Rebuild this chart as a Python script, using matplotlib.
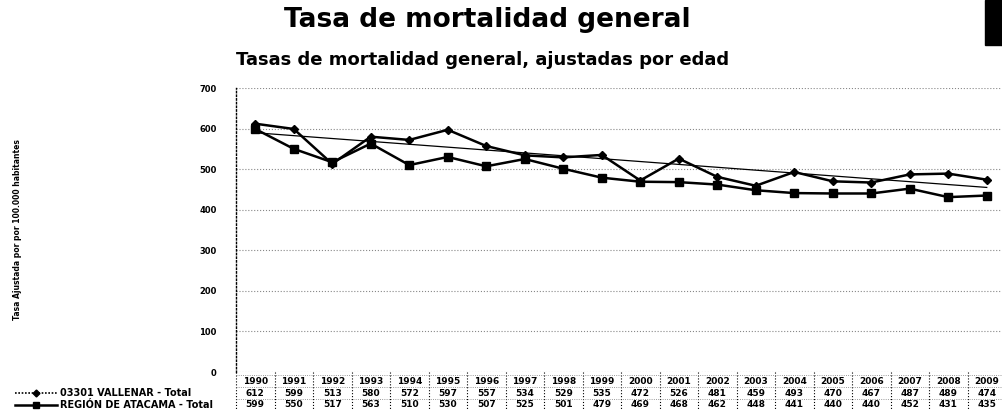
import matplotlib.pyplot as plt
import numpy as np
from matplotlib.lines import Line2D
from matplotlib.patches import Rectangle

years = [str(y) for y in range(1990, 2010)]
vallenar = [612, 599, 513, 580, 572, 597, 557, 534, 529, 535,
            472, 526, 481, 459, 493, 470, 467, 487, 489, 474]
atacama = [599, 550, 517, 563, 510, 530, 507, 525, 501, 479,
           469, 468, 462, 448, 441, 440, 440, 452, 431, 435]
yticks = [0, 100, 200, 300, 400, 500, 600, 700]

W, H = 1003, 412
fig = plt.figure(figsize=(W / 100, H / 100), dpi=100)
# axes: x 236..1006 px, y 88..372 px
ax = fig.add_axes([236 / W, (H - 372) / H, 770 / W, 284 / H])

x = np.arange(len(years))
ax.plot(x, vallenar, color='black', lw=1.8, marker='D', ms=4)
ax.plot(x, atacama, color='black', lw=1.8, marker='s', ms=5.5)
k, b = np.polyfit(x, vallenar, 1)
ax.plot(x, k * x + b, color='black', lw=0.9)

ax.set_xlim(-0.5, len(years) - 0.5)
ax.set_ylim(0, 700)
ax.set_yticks(yticks)
ax.set_yticklabels([str(v) for v in yticks], fontsize=6, fontweight='bold')
ax.tick_params(axis='y', length=0, pad=14)
ax.set_xticks([])
ax.grid(axis='y', color='#888888', ls=':', lw=0.8)
for s in ['top', 'right', 'bottom']:
    ax.spines[s].set_visible(False)
ax.spines['left'].set_linestyle(':')
ax.spines['left'].set_linewidth(1.0)

# data table under the axis
tr = ax.get_xaxis_transform()
rows_y = [-0.032, -0.074, -0.116]
for i in range(len(years)):
    ax.text(i, rows_y[0], years[i], transform=tr, ha='center', va='center',
            fontsize=6.5, fontweight='bold', clip_on=False)
    ax.text(i, rows_y[1], str(vallenar[i]), transform=tr, ha='center', va='center',
            fontsize=6.5, fontweight='bold', clip_on=False)
    ax.text(i, rows_y[2], str(atacama[i]), transform=tr, ha='center', va='center',
            fontsize=6.5, fontweight='bold', clip_on=False)
    ax.plot([i - 0.5, i - 0.5], [0, -0.135], transform=tr, color='black',
            ls=':', lw=0.8, clip_on=False)
for yy in [-0.012, -0.053, -0.095]:
    ax.plot([-0.5, len(years) - 0.5], [yy, yy], transform=tr, color='#777777',
            ls=':', lw=0.6, clip_on=False)

# row labels with legend keys
fig.add_artist(Line2D([15 / W, 57 / W], [(H - 393) / H] * 2, color='black',
                      lw=1.2, ls=(0, (1, 1))))
fig.add_artist(Line2D([36 / W], [(H - 393) / H], color='black', marker='D', ms=3.5))
fig.add_artist(Line2D([15 / W, 57 / W], [(H - 405) / H] * 2, color='black', lw=1.8))
fig.add_artist(Line2D([36 / W], [(H - 405) / H], color='black', marker='s', ms=5))
fig.text(60 / W, (H - 393) / H, '03301 VALLENAR - Total', fontsize=7,
         fontweight='bold', va='center')
fig.text(60 / W, (H - 405) / H, 'REGIÓN DE ATACAMA - Total', fontsize=7,
         fontweight='bold', va='center')

fig.text(18 / W, (H - 230) / H, 'Tasa Ajustada por por 100.000 habitantes',
         rotation=90, fontsize=5.5, fontweight='bold', ha='center', va='center',
         family=['Liberation Sans Narrow', 'DejaVu Sans'])

fig.text(487 / W, (H - 20) / H, 'Tasa de mortalidad general', fontsize=19,
         fontweight='bold', ha='center', va='center')
fig.text(483 / W, (H - 60) / H, 'Tasas de mortalidad general, ajustadas por edad',
         fontsize=13, fontweight='bold', ha='center', va='center')

fig.add_artist(Rectangle((985 / W, (H - 45) / H), 18 / W, 45 / H,
                         color='black', transform=fig.transFigure))

fig.savefig('out.png', dpi=100)
